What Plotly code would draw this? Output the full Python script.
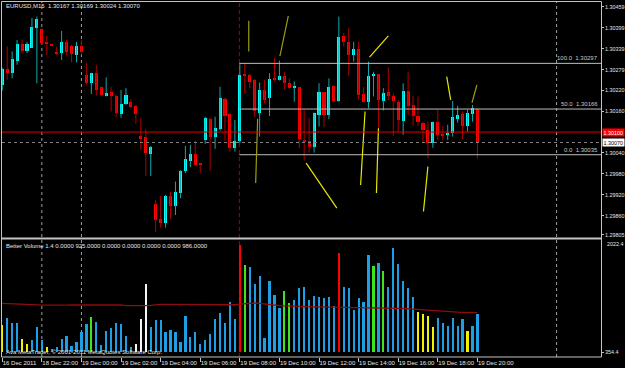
import plotly.graph_objects as go

# ---------------- data ----------------
bar_idx = list(range(97))
opens = [1.30235, 1.30281, 1.30270, 1.30304, 1.30353, 1.30333, 1.30342, 1.30398, 1.30396, 1.30359,
         1.30350, 1.30331, 1.30328, 1.30359, 1.30347, 1.30321, 1.30347, 1.30264, 1.30240, 1.30270,
         1.30229, 1.30204, 1.30216, 1.30204, 1.30152, 1.30181, 1.30185, 1.30175, 1.30090, 1.30087,
         1.30037, 1.29894, 1.29851, 1.29840, 1.29917, 1.29889, 1.29925, 1.29987, 1.30017, 1.30037,
         1.30012, 1.30076, 1.30137, 1.30085, 1.30109, 1.30195, 1.30151, 1.30054, 1.30073, 1.30267,
         1.30264, 1.30250, 1.30156, 1.30221, 1.30199, 1.30254, 1.30250, 1.30261, 1.30240, 1.30226,
         1.30229, 1.30077, 1.30073, 1.30058, 1.30149, 1.30214, 1.30149, 1.30232, 1.30189, 1.30376,
         1.30359, 1.30321, 1.30338, 1.30209, 1.30186, 1.30261, 1.30267, 1.30189, 1.30214, 1.30204,
         1.30187, 1.30133, 1.30219, 1.30178, 1.30147, 1.30127, 1.30106, 1.30068, 1.30128, 1.30092,
         1.30092, 1.30097, 1.30138, 1.30152, 1.30116, 1.30152, 1.30167]
highs = [1.30284, 1.30345, 1.30331, 1.30364, 1.30366, 1.30359, 1.30427, 1.30431, 1.30398, 1.30376,
         1.30351, 1.30345, 1.30390, 1.30364, 1.30350, 1.30359, 1.30364, 1.30299, 1.30270, 1.30293,
         1.30230, 1.30257, 1.30229, 1.30207, 1.30221, 1.30226, 1.30194, 1.30178, 1.30140, 1.30108,
         1.30060, 1.29905, 1.29917, 1.29920, 1.29929, 1.29958, 1.29991, 1.30060, 1.30063, 1.30075,
         1.30012, 1.30144, 1.30140, 1.30144, 1.30230, 1.30199, 1.30154, 1.30135, 1.30297, 1.30297,
         1.30267, 1.30252, 1.30242, 1.30250, 1.30269, 1.30312, 1.30305, 1.30273, 1.30254, 1.30245,
         1.30229, 1.30164, 1.30140, 1.30156, 1.30240, 1.30214, 1.30254, 1.30235, 1.30431, 1.30384,
         1.30398, 1.30359, 1.30359, 1.30229, 1.30302, 1.30273, 1.30267, 1.30226, 1.30286, 1.30211,
         1.30192, 1.30240, 1.30273, 1.30204, 1.30202, 1.30130, 1.30130, 1.30130, 1.30164, 1.30118,
         1.30121, 1.30189, 1.30175, 1.30159, 1.30164, 1.30178, 1.30169]
lows = [1.30219, 1.30250, 1.30254, 1.30293, 1.30326, 1.30326, 1.30341, 1.30240, 1.30350, 1.30321,
        1.30346, 1.30321, 1.30307, 1.30321, 1.30300, 1.30300, 1.30321, 1.30235, 1.30209, 1.30204,
        1.30204, 1.30202, 1.30159, 1.30143, 1.30141, 1.30178, 1.30168, 1.30123, 1.30049, 1.29974,
        1.29974, 1.29813, 1.29826, 1.29826, 1.29851, 1.29862, 1.29910, 1.29982, 1.29999, 1.30003,
        1.29982, 1.30066, 1.29989, 1.30052, 1.30104, 1.30075, 1.30044, 1.30044, 1.30069, 1.30211,
        1.30226, 1.30143, 1.30087, 1.30183, 1.30146, 1.30245, 1.30248, 1.30221, 1.30223, 1.30187,
        1.30054, 1.30018, 1.30041, 1.30041, 1.30116, 1.30114, 1.30137, 1.30187, 1.30187, 1.30345,
        1.30261, 1.30302, 1.30192, 1.30185, 1.30168, 1.30202, 1.30111, 1.30162, 1.30192, 1.30089,
        1.30101, 1.30092, 1.30149, 1.30118, 1.30118, 1.30070, 1.30025, 1.30055, 1.30077, 1.30076,
        1.30077, 1.30087, 1.30127, 1.30080, 1.30101, 1.30130, 1.30024]
closes = [1.30281, 1.30269, 1.30309, 1.30353, 1.30333, 1.30353, 1.30401, 1.30425, 1.30355, 1.30352,
          1.30347, 1.30324, 1.30358, 1.30329, 1.30323, 1.30347, 1.30329, 1.30240, 1.30269, 1.30221,
          1.30207, 1.30213, 1.30202, 1.30154, 1.30181, 1.30207, 1.30171, 1.30152, 1.30080, 1.30039,
          1.30058, 1.29848, 1.29840, 1.29918, 1.29888, 1.29928, 1.29989, 1.30023, 1.30036, 1.30006,
          1.30006, 1.30140, 1.30085, 1.30111, 1.30197, 1.30147, 1.30054, 1.30073, 1.30264, 1.30261,
          1.30245, 1.30159, 1.30221, 1.30192, 1.30252, 1.30250, 1.30262, 1.30240, 1.30226, 1.30232,
          1.30080, 1.30071, 1.30057, 1.30154, 1.30216, 1.30149, 1.30229, 1.30190, 1.30374, 1.30357,
          1.30321, 1.30338, 1.30207, 1.30187, 1.30262, 1.30264, 1.30192, 1.30213, 1.30202, 1.30190,
          1.30135, 1.30219, 1.30175, 1.30147, 1.30128, 1.30106, 1.30068, 1.30128, 1.30092, 1.30089,
          1.30098, 1.30143, 1.30149, 1.30118, 1.30154, 1.30168, 1.30070]

volumes = [757, 865, 782, 782, 548, 473, 533, 722, 533, 424,
           395, 424, 543, 597, 443, 499, 648, 767, 876, 797,
           458, 667, 707, 791, 771, 592, 424, 469, 846, 1363,
           731, 831, 831, 648, 682, 656, 507, 895, 582, 648,
           473, 533, 622, 846, 931, 791, 1103, 841, 1948, 1650,
           1616, 1367, 1486, 558, 1412, 1203, 1005, 1263, 1089, 1129,
           1303, 1318, 1129, 1193, 1178, 1163, 1169, 1044, 1825, 1318,
           1303, 980, 1163, 1095, 1799, 1635, 1685, 1561, 1318, 1908,
           1661, 1412, 1303, 1178, 946, 920, 890, 731, 856, 782,
           741, 856, 741, 846, 667, 746, 925]
# Better Volume class per bar: b=normal, y=low, g=churn, w=low churn, r=climax
vol_class = list("ybbbyybbbybbbbbbbbgbbbbbbbbwww"
                 "bbbbbbbbbbbbbbbbbb"
                 "rgbbbbbbbggbbbbbbbbbr"
                 "bbbbbbgbgbbbbbbyyyybbbbbbybb")
vol_ma = [1080, 1078, 1075, 1072, 1069, 1066, 1062, 1057, 1052, 1050,
          1050, 1051, 1052, 1053, 1054, 1055, 1058, 1059, 1060, 1060,
          1059, 1058, 1057, 1056, 1056, 1046, 1044, 1044, 1045, 1046,
          1050, 1062, 1064, 1065, 1065, 1064, 1062, 1060, 1058, 1056,
          1054, 1054, 1054, 1055, 1055, 1056, 1057, 1058, 1066, 1072,
          1080, 1084, 1078, 1068, 1060, 1052, 1046, 1040, 1036, 1032,
          1030, 1029, 1028, 1027, 1026, 1025, 1024, 1023, 1022, 1021,
          1020, 1018, 1017, 1016, 1016, 1015, 1015, 1014, 1013, 1012,
          1010, 1006, 1000, 994, 988, 982, 976, 970, 964, 958,
          954, 950, 948, 946, 944, 942, 940]

time_tick_bars = [0, 8, 16, 24, 32, 40, 48, 56, 64, 72, 80, 88, 96]
time_tick_labels = ["16 Dec 2011", "18 Dec 22:00", "19 Dec 00:00", "19 Dec 02:00", "19 Dec 04:00",
                    "19 Dec 06:00", "19 Dec 08:00", "19 Dec 10:00", "19 Dec 12:00", "19 Dec 14:00",
                    "19 Dec 16:00", "19 Dec 18:00", "19 Dec 20:00"]
price_ticks = [1.30459, 1.30399, 1.30339, 1.30279, 1.30220, 1.30160,
               1.30040, 1.29980, 1.29920, 1.29860, 1.29805]
price_tick_labels = ["1.30459", "1.30399", "1.30339", "1.30279", "1.30220", "1.30160",
                     "1.30040", "1.29980", "1.29920", "1.29860", "1.29805"]
fib_levels = [1.30297, 1.30166, 1.30035]
fib_names = ["100.0", "50.0", "0.0"]
fib_start_bar = 48
ask_price = 1.30100
bid_price = 1.30070
day_separators = [8, 16, 112]
session_line_bar = 48
vol_max_label = "2022.4"
vol_min_value = 354.4
vol_min_label = "354.4"

yellow_lines_x = [[61.4, 67.6], [74.2, 78.0], [73.3, 72.4], [76.0, 75.6], [89.8, 90.6], [86.0, 85.1]]
yellow_lines_p = [[1.30011, 1.29882], [1.30315, 1.30376], [1.30159, 1.29948],
                  [1.30111, 1.29925], [1.30259, 1.30192], [1.30001, 1.29872]]
olive_lines_x = [[49.8, 49.8], [57.8, 56.1], [51.6, 51.2], [95.9, 94.9]]
olive_lines_p = [[1.30419, 1.30331], [1.30433, 1.30318], [1.30138, 1.29954], [1.30235, 1.30184]]

title_text = "EURUSD,M15  1.30167 1.30169 1.30024 1.30070"
vol_title = "Better Volume 1.4 0.0000 925.0000 0.0000 0.0000 0.0000 0.0000 986.0000"
copyright_text = "Ava MetaTrader, © 2001-2011 MetaQuotes Software Corp."

# ---------------- styling ----------------
W, H = 625, 368
def px_x(x):
    return x / W
def px_y(y):
    return 1 - y / H

FONT = "Liberation Sans"
TXT = "#e6e6e6"
FRAME = "#c4c4c4"
BULL, BULL_WICK = "#00ffff", "#10aaaa"
BEAR, BEAR_WICK = "#ff0000", "#b00000"
VOL_COL = {"b": "#1c9fe4", "y": "#f2f200", "g": "#3ce61e", "w": "#f4f4f4", "r": "#ff0000"}
AXF = dict(family=FONT, size=5.4, color=TXT)

x_dom = [px_x(2), px_x(601)]
x_rng = [-0.05, 120.97]
price_dom = [px_y(237), px_y(2)]
price_rng = [1.29799, 1.30473]
vol_dom = [px_y(352), px_y(240)]
vol_rng = [vol_min_value, 2022.4]

fig = go.Figure()

# wicks
def wick_xy(sel):
    xs, ys = [], []
    for i in bar_idx:
        if sel(i):
            xs += [i, i, None]
            ys += [lows[i], highs[i], None]
    return xs, ys

bx, by = wick_xy(lambda i: closes[i] >= opens[i])
rx, ry = wick_xy(lambda i: closes[i] < opens[i])
fig.add_trace(go.Scatter(x=bx, y=by, mode="lines", line=dict(color=BULL_WICK, width=1),
                         xaxis="x", yaxis="y", hoverinfo="skip", showlegend=False))
fig.add_trace(go.Scatter(x=rx, y=ry, mode="lines", line=dict(color=BEAR_WICK, width=1),
                         xaxis="x", yaxis="y", hoverinfo="skip", showlegend=False))

# bodies
body_base = [min(o, c) for o, c in zip(opens, closes)]
body_h = [abs(c - o) for o, c in zip(opens, closes)]
body_col = [BULL if c >= o else BEAR for o, c in zip(opens, closes)]
fig.add_trace(go.Bar(x=bar_idx, y=body_h, base=body_base, width=0.62,
                     marker=dict(color=body_col, line=dict(width=0)),
                     xaxis="x", yaxis="y", hoverinfo="skip", showlegend=False))

# fibonacci lines
for lvl in fib_levels:
    fig.add_trace(go.Scatter(x=[fib_start_bar - 0.1, x_rng[1]], y=[lvl, lvl], mode="lines",
                             line=dict(color="#bdbdbd", width=1), xaxis="x", yaxis="y",
                             hoverinfo="skip", showlegend=False))

# trend lines
def seg_xy(xl, pl):
    xs, ys = [], []
    for a, b in zip(xl, pl):
        xs += a + [None]
        ys += b + [None]
    return xs, ys

tx, ty = seg_xy(yellow_lines_x, yellow_lines_p)
fig.add_trace(go.Scatter(x=tx, y=ty, mode="lines", line=dict(color="#e8e800", width=1.2),
                         xaxis="x", yaxis="y", hoverinfo="skip", showlegend=False))
ox, oy = seg_xy(olive_lines_x, olive_lines_p)
fig.add_trace(go.Scatter(x=ox, y=oy, mode="lines", line=dict(color="#9a9a10", width=1.2),
                         xaxis="x", yaxis="y", hoverinfo="skip", showlegend=False))

# volume
fig.add_trace(go.Bar(x=bar_idx, y=volumes, width=0.45,
                     marker=dict(color=[VOL_COL[c] for c in vol_class], line=dict(width=0)),
                     xaxis="x2", yaxis="y2", hoverinfo="skip", showlegend=False))
fig.add_trace(go.Scatter(x=bar_idx, y=vol_ma, mode="lines", line=dict(color="#8e0c0c", width=1.3),
                         xaxis="x2", yaxis="y2", hoverinfo="skip", showlegend=False))

shapes = []
# ask / bid lines
shapes.append(dict(type="line", xref="x domain", yref="y", x0=0, x1=1, y0=ask_price, y1=ask_price,
                   line=dict(color="#e00000", width=1)))
shapes.append(dict(type="line", xref="x domain", yref="y", x0=0, x1=1, y0=bid_price, y1=bid_price,
                   line=dict(color="#808080", width=1, dash="dot")))
# vertical separators
for b in day_separators:
    shapes.append(dict(type="line", xref="x", yref="paper", x0=b, x1=b, y0=px_y(357), y1=px_y(2),
                       line=dict(color="#a0a0a0", width=1, dash="dot"), layer="below"))
shapes.append(dict(type="line", xref="x", yref="paper", x0=session_line_bar - 0.1, x1=session_line_bar - 0.1,
                   y0=px_y(357), y1=px_y(2), line=dict(color="#a80000", width=1, dash="4px,3px"),
                   layer="below"))
# frame
shapes.append(dict(type="rect", xref="paper", yref="paper", x0=px_x(1.5), x1=px_x(601.5),
                   y0=px_y(357), y1=px_y(1.5), line=dict(color=FRAME, width=1)))
shapes.append(dict(type="line", xref="paper", yref="paper", x0=px_x(1.5), x1=px_x(601.5),
                   y0=px_y(238.5), y1=px_y(238.5), line=dict(color=FRAME, width=2)))

ann = []
f = dict(family=FONT, size=6, color=TXT)
ann.append(dict(text=title_text, xref="paper", yref="paper", x=px_x(4), y=px_y(6.5),
                xanchor="left", yanchor="middle", showarrow=False, font=f))
ann.append(dict(text=vol_title, xref="paper", yref="paper", x=px_x(4), y=px_y(245.5),
                xanchor="left", yanchor="middle", showarrow=False, font=f))
ann.append(dict(text=copyright_text, xref="paper", yref="paper", x=px_x(3.5), y=px_y(352),
                xanchor="left", yanchor="middle", showarrow=False, font=f))
ann.append(dict(text=vol_max_label, xref="paper", yref="paper", x=px_x(605), y=px_y(244),
                xanchor="left", yanchor="middle", showarrow=False, font=AXF))
for lvl, nm in zip(fib_levels, fib_names):
    ann.append(dict(text=f"{nm}  {lvl:.5f}", xref="paper", yref="y", x=px_x(600), y=lvl,
                    xanchor="right", yanchor="bottom", showarrow=False,
                    font=dict(family=FONT, size=6, color="#c8c8c8")))
ann.append(dict(text=f"{ask_price:.5f}", xref="paper", yref="y", x=px_x(602), y=ask_price,
                xanchor="left", yanchor="middle", showarrow=False, bgcolor="#ff0000",
                borderpad=0.5, font=dict(family=FONT, size=5.4, color="#ffffff")))
ann.append(dict(text=f"{bid_price:.5f}", xref="paper", yref="y", x=px_x(602), y=bid_price,
                xanchor="left", yanchor="middle", showarrow=False, bgcolor="#ffffff",
                borderpad=0.5, font=dict(family=FONT, size=5.4, color="#000000")))

fig.update_layout(
    width=W, height=H, margin=dict(l=0, r=0, t=0, b=0, autoexpand=False),
    paper_bgcolor="#000000", plot_bgcolor="#000000",
    barmode="overlay", bargap=0, showlegend=False,
    font=dict(family=FONT, size=6, color=TXT),
    xaxis=dict(domain=x_dom, range=x_rng, anchor="y", showgrid=False, zeroline=False,
               showticklabels=False, ticks="", showline=False, automargin=False),
    yaxis=dict(domain=price_dom, range=price_rng, anchor="x", side="right", showgrid=False,
               zeroline=False, tickmode="array", tickvals=price_ticks, ticktext=price_tick_labels,
               ticks="outside", ticklen=2, tickcolor=FRAME, showline=False, automargin=False,
               tickfont=AXF),
    xaxis2=dict(domain=x_dom, range=x_rng, matches="x", anchor="free", position=px_y(357),
                showgrid=False, zeroline=False, showline=False, tickmode="array",
                tickvals=time_tick_bars, ticktext=time_tick_labels, ticks="outside", ticklen=4,
                tickcolor=FRAME, ticklabelposition="outside right", tickangle=0, automargin=False,
                tickfont=dict(family=FONT, size=6, color=TXT)),
    yaxis2=dict(domain=vol_dom, range=vol_rng, anchor="x2", side="right", showgrid=False,
                zeroline=False, tickmode="array", tickvals=[vol_min_value], ticktext=[vol_min_label],
                ticks="outside", ticklen=2, tickcolor=FRAME, showline=False, automargin=False,
                tickfont=AXF),
    shapes=shapes, annotations=ann,
)

fig.write_html("out.html", config=dict(displayModeBar=False))
